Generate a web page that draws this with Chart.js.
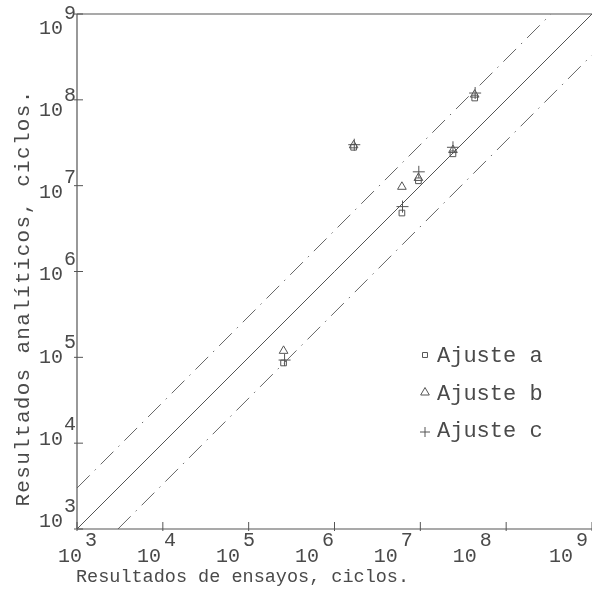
<!DOCTYPE html>
<html>
<head>
<meta charset="utf-8">
<script src="https://cdn.jsdelivr.net/npm/chart.js@4/dist/chart.umd.min.js"></script>
<style>
  html, body { margin: 0; padding: 0; background: #ffffff; }
  #wrap { width: 592px; height: 591px; overflow: hidden; }
</style>
</head>
<body>
<div id="wrap"><canvas id="c" width="592" height="591"></canvas></div>
<script>
// Decade exponents used for the tick labels on both log axes
const xExponents = [3, 4, 5, 6, 7, 8, 9];
const yExponents = [3, 4, 5, 6, 7, 8, 9];

// Test results (cycles) and analytical predictions (cycles) for each fit
const ensayosA    = [2.55e5, 1.67e6, 6.1e6, 9.5e6, 2.4e7, 4.3e7];
const analiticosA = [8.6e4, 2.8e7, 4.8e6, 1.14e7, 2.35e7, 1.05e8];

const ensayosB    = [2.55e5, 1.67e6, 6.1e6, 9.5e6, 2.4e7, 4.3e7];
const analiticosB = [1.19e5, 2.95e7, 9.7e6, 1.23e7, 2.6e7, 1.15e8];

const ensayosC    = [2.62e5, 1.7e6, 6.2e6, 9.6e6, 2.4e7, 4.35e7];
const analiticosC = [9.3e4, 3.0e7, 5.7e6, 1.45e7, 2.8e7, 1.2e8];

// Reference lines: perfect agreement and a factor-of-3 band
const lineX      = [1e3, 1e9];
const bandFactor = 3;

const seriesLabels = ['Ajuste a', 'Ajuste b', 'Ajuste c'];
const seriesStyles = ['rect', 'triangle', 'cross'];

const ink = '#555555';
const textInk = '#4a4a4a';
const monoFont = '"Liberation Mono", "DejaVu Sans Mono", monospace';
const dashDot = [18, 7, 1.5, 7];

function pts(xs, ys) { return xs.map((x, i) => ({ x: x, y: ys[i] })); }

const datasets = [
  {
    label: 'igualdad', type: 'line',
    data: pts(lineX, lineX),
    borderColor: ink, borderWidth: 1, pointRadius: 0, fill: false
  },
  {
    label: 'banda superior', type: 'line',
    data: pts([lineX[0], lineX[1] / bandFactor], [lineX[0] * bandFactor, lineX[1]]),
    borderColor: '#666666', borderWidth: 1, borderDash: dashDot, pointRadius: 0, fill: false
  },
  {
    label: 'banda inferior', type: 'line',
    data: pts([lineX[0] * bandFactor, lineX[1]], [lineX[0], lineX[1] / bandFactor]),
    borderColor: '#666666', borderWidth: 1, borderDash: dashDot, pointRadius: 0, fill: false
  },
  {
    label: seriesLabels[0], type: 'scatter', legendMarker: true,
    data: pts(ensayosA, analiticosA),
    pointStyle: seriesStyles[0], pointRadius: 4, borderColor: ink, borderWidth: 1,
    backgroundColor: 'rgba(0,0,0,0)'
  },
  {
    label: seriesLabels[1], type: 'scatter', legendMarker: true,
    data: pts(ensayosB, analiticosB),
    pointStyle: seriesStyles[1], pointRadius: 5, borderColor: ink, borderWidth: 1,
    backgroundColor: 'rgba(0,0,0,0)'
  },
  {
    label: seriesLabels[2], type: 'scatter', legendMarker: true,
    data: pts(ensayosC, analiticosC),
    pointStyle: seriesStyles[2], pointRadius: 6, borderColor: ink, borderWidth: 1,
    backgroundColor: 'rgba(0,0,0,0)'
  }
];

// Axes, power-of-ten labels, titles and legend drawn on the canvas
const decorations = {
  id: 'decorations',
  afterDraw(chart) {
    const ctx = chart.ctx;
    const a = chart.chartArea;
    const xs = chart.scales.x, ys = chart.scales.y;
    ctx.save();
    ctx.strokeStyle = ink;
    ctx.lineWidth = 1.2;
    ctx.beginPath();
    ctx.moveTo(a.left, a.bottom); ctx.lineTo(a.right, a.bottom);
    ctx.moveTo(a.left, a.bottom); ctx.lineTo(a.left, a.top);
    ctx.moveTo(a.left, a.top); ctx.lineTo(a.right, a.top);
    ctx.stroke();

    // decade tick marks
    ctx.lineWidth = 1;
    ctx.beginPath();
    xExponents.forEach(e => {
      const px = xs.getPixelForValue(Math.pow(10, e));
      ctx.moveTo(px, a.bottom - 7); ctx.lineTo(px, a.bottom + 2);
    });
    yExponents.forEach(e => {
      const py = ys.getPixelForValue(Math.pow(10, e));
      ctx.moveTo(a.left - 3, py); ctx.lineTo(a.left + 6, py);
    });
    ctx.stroke();

    ctx.fillStyle = textInk;
    ctx.font = '20px ' + monoFont;
    ctx.textBaseline = 'alphabetic';

    // x labels: "10" with raised exponent, typed slightly tighter than the ticks;
    // the last one is kept against the right edge of the canvas
    const lastX = xExponents[xExponents.length - 1];
    xExponents.forEach(e => {
      const px = xs.getPixelForValue(Math.pow(10, e));
      let lx = 58 + (px - a.left) * 0.92;
      if (e === lastX) lx = chart.width - 43;
      ctx.textAlign = 'left';
      ctx.fillText('10', lx, a.bottom + 33);
      ctx.fillText(String(e), lx + 27, a.bottom + 17);
    });
    // y labels
    yExponents.forEach(e => {
      const py = ys.getPixelForValue(Math.pow(10, e));
      const cy = 27 + (py - a.top) * 0.957;
      ctx.textAlign = 'right';
      ctx.fillText('10', a.left - 14, cy + 7);
      ctx.textAlign = 'left';
      ctx.fillText(String(e), a.left - 13, cy - 8);
    });

    // axis titles
    ctx.font = '18.5px ' + monoFont;
    ctx.textAlign = 'left';
    ctx.fillText('Resultados de ensayos, ciclos.', 76, 582);
    ctx.save();
    ctx.translate(29, 298);
    ctx.rotate(-Math.PI / 2);
    ctx.font = '21px ' + monoFont;
    ctx.letterSpacing = '1.3px';
    ctx.textAlign = 'center';
    ctx.fillText('Resultados analíticos, ciclos.', 0, 0);
    ctx.restore();

    // legend
    ctx.font = '22px ' + monoFont;
    ctx.textAlign = 'left';
    const marked = chart.data.datasets.filter(d => d.legendMarker);
    marked.forEach((d, i) => {
      const ly = 362 + i * 37.5;
      ctx.fillStyle = 'rgba(0,0,0,0)';
      ctx.strokeStyle = ink;
      Chart.helpers.drawPoint(ctx, {
        pointStyle: d.pointStyle, radius: i === 0 ? 3.5 : 5, rotation: 0,
        borderWidth: 1
      }, 425, ly - 7 + (i === 2 ? 2 : 0));
      ctx.fillStyle = textInk;
      ctx.fillText(d.label, 437, ly);
    });
    ctx.restore();
  }
};

new Chart(document.getElementById('c'), {
  data: { datasets: datasets },
  options: {
    responsive: false,
    animation: false,
    layout: { autoPadding: false, padding: { left: 77, top: 14, right: -8, bottom: 62 } },
    plugins: { legend: { display: false }, tooltip: { enabled: false } },
    scales: {
      x: { type: 'logarithmic', min: 1e3, max: 1e9, display: false },
      y: { type: 'logarithmic', min: 1e3, max: 1e9, display: false }
    }
  },
  plugins: [decorations]
});
</script>
</body>
</html>
